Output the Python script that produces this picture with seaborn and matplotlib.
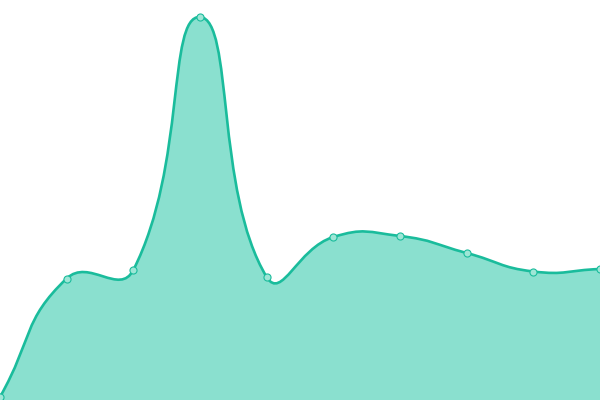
import numpy as np
import pandas as pd
import matplotlib
matplotlib.use('Agg')
import matplotlib.pyplot as plt
from matplotlib.path import Path
from matplotlib.patches import PathPatch
import seaborn as sns

# values (no axes shown)
categories = list(range(10))
values = [3, 121.5, 130, 383, 123, 163, 164, 147, 128.5, 131]

LINE = '#1abc9c'
AREA = '#8ae0cf'

sns.set_theme(style='white')

W, H = 600, 400
fig = plt.figure(figsize=(W / 100, H / 100), dpi=100)
ax = fig.add_axes([0, 0, 1, 1])
ax.set_xlim(0, len(categories) - 1)
ax.set_ylim(0, 400)
ax.set_axis_off()


def smooth_path(xs, ys, smooth=0.5):
    """Cardinal-ish bezier like echarts smooth line; computed in pixel space."""
    sx = W / (len(xs) - 1)
    sy = H / 400
    px = np.asarray(xs, float) * sx
    py = np.asarray(ys, float) * sy
    n = len(px)
    cps_in, cps_out = [], []
    for i in range(n):
        pxv, pyv = (px[i - 1], py[i - 1]) if i > 0 else (px[i], py[i])
        nxv, nyv = (px[i + 1], py[i + 1]) if i < n - 1 else (px[i], py[i])
        vx, vy = nxv - pxv, nyv - pyv
        lp = np.hypot(px[i] - pxv, py[i] - pyv)
        ln = np.hypot(nxv - px[i], nyv - py[i])
        r = ln / (lp + ln) if (lp + ln) > 0 else 0.5
        cps_in.append((px[i] - vx * smooth * (1 - r), py[i] - vy * smooth * (1 - r)))
        cps_out.append((px[i] + vx * smooth * r, py[i] + vy * smooth * r))
    verts = [(px[0], py[0])]
    codes = [Path.MOVETO]
    for i in range(n - 1):
        verts += [cps_out[i], cps_in[i + 1], (px[i + 1], py[i + 1])]
        codes += [Path.CURVE4] * 3
    verts = [(vx / sx, vy / sy) for vx, vy in verts]
    return verts, codes


verts, codes = smooth_path(categories, values)

# area
area_verts = verts + [(categories[-1], 0), (categories[0], 0), verts[0]]
area_codes = codes + [Path.LINETO, Path.LINETO, Path.CLOSEPOLY]
ax.add_patch(PathPatch(Path(area_verts, area_codes), facecolor=AREA,
                       edgecolor='none', zorder=1))
# line
ax.add_patch(PathPatch(Path(verts, codes), facecolor='none', edgecolor=LINE,
                       linewidth=1.9, zorder=2, capstyle='round', joinstyle='round'))

df = pd.DataFrame({'x': categories, 'y': values})
sns.scatterplot(data=df, x='x', y='y', ax=ax, s=26, color='#9ee6d6',
                edgecolor=LINE, linewidth=0.8, zorder=3, clip_on=False)
ax.set_axis_off()

fig.savefig('out.png', dpi=100)
